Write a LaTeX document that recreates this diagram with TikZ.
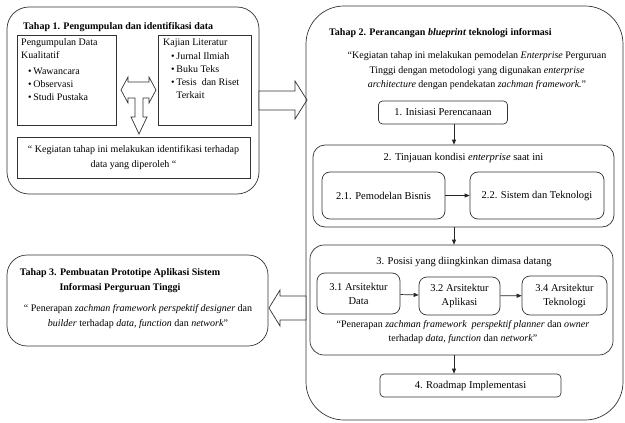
\documentclass[tikz,border=0pt]{standalone}
\usepackage{fontspec}
\setmainfont{Liberation Serif}
\usetikzlibrary{arrows.meta}

\tikzset{
    garis/.style = {draw = black!80, line width = 0.7pt},
    tahap/.style = {garis, inner sep = 0pt},
    kotak/.style = {garis, fill = white, inner sep = 0pt},
    judul/.style = {inner sep = 0pt, font = {\fontsize{10}{17}\selectfont\bfseries}},
    teks/.style = {inner sep = 0pt, font = {\fontsize{10}{13}\selectfont}},
    label/.style = {inner sep = 0pt, font = {\fontsize{10.5}{14}\selectfont}},
    panah/.style = {draw = black!85, line width = 0.7pt, -{Triangle[length = 5pt, width = 4pt]}},
    panahblok/.style = {garis, fill = white, line join = miter}
}

\begin{document}
\begin{tikzpicture}[x = 1pt, y = -1pt]
        \useasboundingbox (0, 0) rectangle (625, 423);

        % tahap 1
        \node[tahap, minimum width = 252, minimum height = 187, rounded corners = 22] (tahapsatu) at (133, 100.5) {};
        \node[judul, anchor = west] (judulsatu) at (23, 27) {Tahap 1. Pengumpulan dan identifikasi data};

        \node[kotak, minimum width = 99, minimum height = 90] (kualitatif) at (66.5, 80) {};
        \node[teks, anchor = north west, align = left] (kualitatifisi) at (21, 38)
            {Pengumpulan Data\\Kualitatif\\[3pt]
             \hspace{7pt}\textbullet\,Wawancara\\
             \hspace{7pt}\textbullet\,Observasi\\
             \hspace{7pt}\textbullet\,Studi Pustaka};

        \node[kotak, minimum width = 93, minimum height = 90] (kajian) at (204.5, 80) {};
        \node[teks, anchor = north west, align = left] (kajianisi) at (163, 39)
            {Kajian Literatur\\[1pt]
             \hspace{8pt}\textbullet\,Jurnal Ilmiah\\
             \hspace{8pt}\textbullet\,Buku Teks\\
             \hspace{8pt}\textbullet\,Tesis~ dan Riset\\
             \hspace{8pt}\phantom{\textbullet\,}Terkait};

        \draw[panahblok] (121, 90) -- (128, 77) -- (128, 82) -- (149, 82) -- (149, 77) -- (156, 90)
            -- (149, 103) -- (149, 98) -- (143, 98) -- (143, 117) -- (147, 117) -- (139, 134)
            -- (131, 117) -- (135, 117) -- (135, 98) -- (128, 98) -- (128, 103) -- cycle;

        \node[kotak, minimum width = 233, minimum height = 41, align = center,
              font = {\fontsize{10}{15}\selectfont}] (kegiatansatu) at (133.5, 157.5)
            {“ Kegiatan tahap ini melakukan identifikasi terhadap\\data yang diperoleh “};

        \draw[panahblok] (259, 91) -- (295, 91) -- (295, 81) -- (307, 100) -- (295, 119) -- (295, 110) -- (259, 110) -- cycle;

        % tahap 2
        \node[tahap, minimum width = 317, minimum height = 414, rounded corners = 38] (tahapdua) at (464.5, 213) {};
        \node[judul, anchor = west] (juduldua) at (329, 33) {Tahap 2. Perancangan \textit{blueprint} teknologi informasi};
        \node[teks, align = center, font = {\fontsize{10}{14.5}\selectfont}] (kegiatandua) at (477, 71)
            {“Kegiatan tahap ini melakukan pemodelan \textit{Enterprise} Perguruan\\
             Tinggi dengan metodologi yang digunakan \textit{enterprise}\\
             \textit{architecture} dengan pendekatan \textit{zachman framework.}”};

        \coordinate (jalur) at (454, 0);

        \node[kotak, label, rounded corners = 4, minimum width = 129, minimum height = 23] (inisiasi) at (443, 112.5) {1. Inisiasi Perencanaan};

        \node[kotak, rounded corners = 12, minimum width = 301, minimum height = 82] (tinjauan) at (463.5, 186) {};
        \node[label] (tinjauanjudul) at (463.5, 158) {2. Tinjauan kondisi \textit{enterprise} saat ini};
        \node[kotak, label, rounded corners = 8, minimum width = 123, minimum height = 47] (bisnis) at (383.5, 195.5) {2.1. Pemodelan Bisnis};
        \node[kotak, label, rounded corners = 8, minimum width = 134, minimum height = 47] (sistem) at (537, 195.5) {2.2. Sistem dan Teknologi};

        \node[kotak, rounded corners = 14, minimum width = 303, minimum height = 110] (posisi) at (461.5, 300) {};
        \node[label] (posisijudul) at (464, 262) {3. Posisi yang diingkinkan dimasa datang};
        \node[kotak, label, rounded corners = 8, minimum width = 83, minimum height = 41, align = center] (arsdata) at (358.5, 293.5) {3.1 Arsitektur\\Data};
        \node[kotak, label, rounded corners = 8, minimum width = 81, minimum height = 38, align = center] (arsaplikasi) at (459.5, 296) {3.2 Arsitektur\\Aplikasi};
        \node[kotak, label, rounded corners = 8, minimum width = 85, minimum height = 39, align = center] (arsteknologi) at (564.5, 295.5) {3.4 Arsitektur\\Teknologi};
        \node[teks, align = center, font = {\fontsize{10}{14}\selectfont}] (penerapandua) at (463, 332)
            {“Penerapan \textit{zachman framework~ perspektif planner} dan \textit{owner}\\
             terhadap \textit{data, function} dan \textit{network}”};

        \node[kotak, label, rounded corners = 4, minimum width = 181, minimum height = 23] (roadmap) at (470.5, 385.5) {4. Roadmap Implementasi};

        \draw[panah] (inisiasi.south -| jalur) -- (tinjauan.north -| jalur);
        \draw[panah] (bisnis) -- (sistem);
        \draw[panah] (tinjauan.south -| jalur) -- (posisi.north -| jalur);
        \draw[panah] (arsdata) -- (arsaplikasi);
        \draw[panah] (arsaplikasi) -- (arsteknologi);
        \draw[panah] (posisi.south -| jalur) -- (roadmap.north -| jalur);

        % tahap 3
        \node[tahap, minimum width = 261, minimum height = 91, rounded corners = 20] (tahaptiga) at (137.5, 300.5) {};
        \node[judul, align = center] (judultiga) at (120, 281) {Tahap 3. Pembuatan Prototipe Aplikasi Sistem\\[-2pt]Informasi Perguruan Tinggi};
        \node[teks, align = center, font = {\fontsize{10}{15}\selectfont}] (penerapantiga) at (138, 317)
            {“ Penerapan \textit{zachman framework perspektif designer} dan\\
             \textit{builder} terhadap \textit{data, function} dan \textit{network}”};

        \draw[panahblok] (306, 296) -- (280, 296) -- (280, 290) -- (269, 308) -- (280, 326) -- (280, 320) -- (306, 320) -- cycle;
    \end{tikzpicture}
\end{document}
